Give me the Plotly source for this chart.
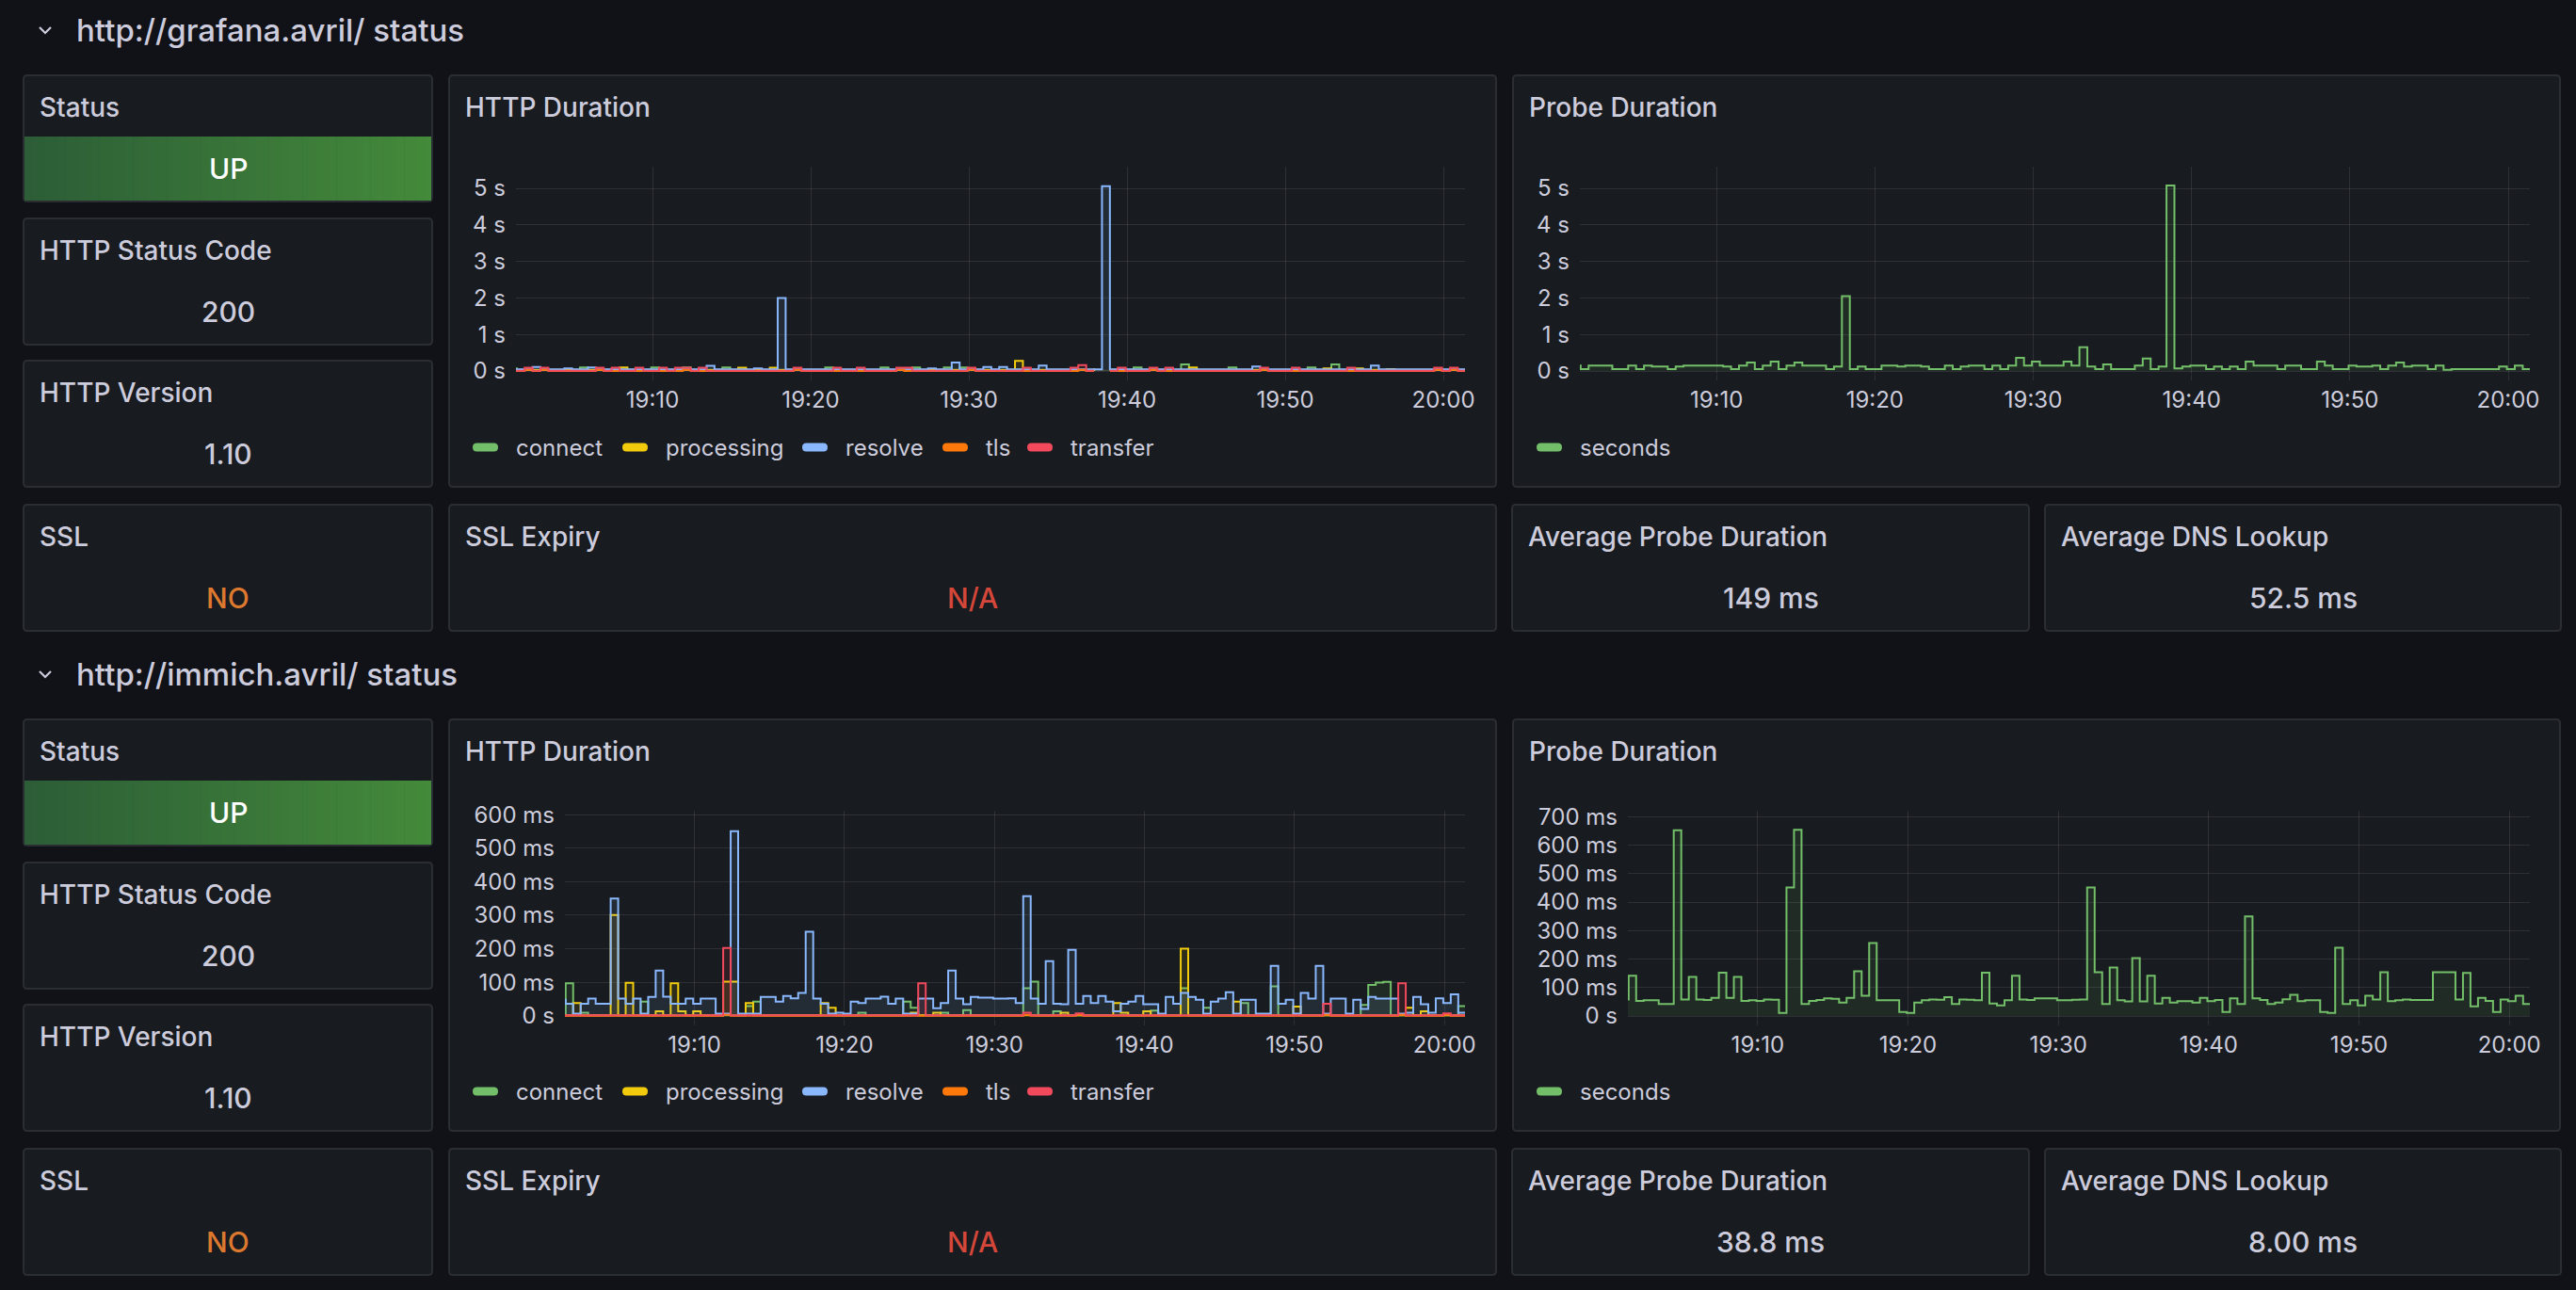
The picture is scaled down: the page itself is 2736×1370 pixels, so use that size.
import plotly.graph_objects as go
import pandas as pd

W, H = 2736, 1370

# ---------------- data ----------------
start_time = "2024-01-01 19:00:55"
range_start = "2024-01-01 19:01:22"
range_end = "2024-01-01 20:01:22"
n_points = 122
step = "30s"

series_names = ["connect", "processing", "resolve", "tls", "transfer"]
series_colors = ["#73BF69", "#F2CC0C", "#8AB8FF", "#FF780A", "#F2495C"]
probe_name = "seconds"

row_titles = ["http://grafana.avril/ status", "http://immich.avril/ status"]
g1_stats = ["UP", "200", "1.10", "NO", "N/A", "149 ms", "52.5 ms"]
g2_stats = ["UP", "200", "1.10", "NO", "N/A", "38.8 ms", "8.00 ms"]

# group 1 (grafana) HTTP duration, ms
g1_connect = [
    70, 35, 35, 35, 35, 35, 35, 35, 35, 95,
    35, 35, 35, 35, 35, 35, 35, 35, 95, 35,
    35, 35, 95, 35, 35, 35, 35, 95, 35, 35,
    35, 35, 35, 35, 35, 35, 35, 35, 35, 35,
    95, 35, 35, 35, 35, 35, 35, 95, 35, 35,
    35, 95, 35, 35, 35, 95, 35, 95, 35, 35,
    35, 35, 35, 35, 35, 35, 35, 35, 35, 35,
    35, 35, 35, 35, 35, None, 35, 35, 35, 95,
    35, 35, 35, 35, 35, 180, 35, 35, 35, 35,
    35, 95, 35, 35, 35, 35, 35, 35, 35, 35,
    35, 95, 35, 35, 180, 35, 35, 35, 35, 35,
    35, 35, 35, 35, 35, 35, 35, 35, 35, 35,
    35, 35]
g1_processing = [
    25, 25, 25, 25, 25, 25, 25, 25, 25, 25,
    25, 25, 25, 25, 95, 25, 25, 25, 25, 25,
    25, 25, 25, 25, 25, 25, 25, 25, 25, 90,
    25, 25, 25, 90, 25, 25, 25, 25, 25, 25,
    25, 25, 25, 25, 25, 25, 25, 25, 25, 25,
    25, 25, 25, 25, 25, 25, 25, 25, 25, 25,
    25, 25, 25, 25, 280, 25, 25, 25, 25, 25,
    25, 25, 25, 25, 70, None, 25, 25, 25, 25,
    25, 25, 25, 25, 25, 25, 95, 25, 25, 25,
    25, 25, 25, 25, 25, 25, 25, 25, 25, 25,
    25, 25, 25, 70, 25, 25, 25, 70, 25, 25,
    25, 50, 25, 25, 25, 25, 25, 25, 25, 25,
    25, 25]
g1_resolve = [
    45, 45, 45, 110, 45, 45, 45, 70, 45, 45,
    95, 45, 45, 45, 45, 45, 45, 45, 45, 45,
    45, 45, 45, 45, 45, 140, 45, 45, 45, 45,
    45, 70, 45, 45, 2000, 45, 45, 45, 45, 45,
    45, 45, 45, 45, 45, 45, 45, 45, 45, 45,
    45, 45, 45, 70, 45, 45, 230, 45, 45, 45,
    110, 45, 110, 45, 45, 45, 45, 150, 45, 45,
    45, 45, 45, 45, 45, 5060, 45, 45, 45, 45,
    45, 45, 45, 45, 45, 45, 45, 45, 45, 45,
    45, 45, 45, 45, 120, 45, 45, 45, 45, 45,
    45, 45, 45, 45, 45, 45, 45, 45, 45, 150,
    45, 45, 45, 45, 45, 45, 45, 45, 45, 45,
    45, 45]
g1_tls = [
    0, 0, 30, 0, 30, 0, 0, 0, 0, 0,
    0, 30, 0, 0, 0, 0, 0, 0, 0, 0,
    0, 0, 30, 0, 0, 0, 0, 0, 0, 0,
    0, 0, 0, 0, 0, 0, 30, 0, 0, 0,
    0, 0, 0, 0, 0, 0, 0, 0, 0, 30,
    0, 0, 0, 0, 0, 0, 0, 0, 30, 0,
    0, 0, 0, 0, 0, 0, 0, 0, 0, 0,
    0, 0, 30, 0, 0, None, 0, 0, 0, 0,
    0, 30, 0, 0, 0, 0, 0, 0, 0, 0,
    0, 0, 0, 0, 0, 30, 0, 0, 0, 0,
    0, 0, 0, 0, 0, 0, 0, 0, 0, 0,
    0, 0, 0, 0, 0, 0, 0, 30, 0, 30,
    0, 0]
g1_transfer = [
    5, 5, 90, 5, 90, 5, 5, 5, 5, 5,
    5, 90, 5, 90, 5, 5, 90, 5, 5, 90,
    5, 90, 90, 5, 90, 5, 5, 5, 5, 5,
    5, 5, 5, 5, 5, 5, 90, 5, 5, 5,
    5, 90, 5, 5, 90, 5, 5, 5, 5, 90,
    90, 5, 5, 5, 5, 5, 5, 5, 90, 5,
    5, 5, 5, 5, 5, 90, 5, 5, 5, 5,
    5, 90, 160, 5, 5, None, 5, 90, 5, 5,
    5, 90, 5, 90, 5, 5, 5, 5, 5, 5,
    5, 5, 5, 5, 5, 90, 5, 5, 5, 90,
    5, 5, 5, 5, 5, 5, 90, 5, 5, 5,
    5, 5, 5, 5, 5, 5, 5, 90, 5, 90,
    5, 5]
g1_probe = [
    150, 50, 150, 150, 150, 50, 50, 150, 50, 150,
    125, 125, 50, 125, 150, 150, 150, 150, 150, 125,
    50, 150, 230, 50, 150, 260, 50, 150, 230, 150,
    150, 150, 50, 125, 2050, 50, 125, 50, 50, 150,
    150, 125, 150, 150, 125, 50, 50, 150, 50, 125,
    150, 150, 50, 150, 50, 150, 360, 150, 260, 150,
    150, 150, 260, 150, 650, 125, 50, 180, 50, 50,
    50, 150, 340, 50, 125, 5080, 70, 125, 150, 150,
    50, 125, 50, 125, 50, 260, 150, 150, 150, 50,
    150, 150, 50, 50, 260, 150, 50, 50, 150, 125,
    125, 150, 50, 150, 230, 125, 150, 150, 50, 150,
    35, 50, 50, 50, 50, 50, 50, 125, 50, 150,
    50, 50]

# group 2 (immich) HTTP duration, ms
g2_connect = [
    1, 97, 1, 9, 1, 1, 1, 1, 1, 1,
    1, 42, 1, 1, 1, 1, 1, 1, 1, 1,
    1, 1, 1, 1, 1, 29, 42, 1, 1, 1,
    1, 1, 1, 1, 1, 1, 1, 1, 1, 1,
    9, 1, 1, 1, 1, 1, 42, 24, 1, 1,
    1, 9, 1, 1, 17, 1, 1, 1, 1, 1,
    1, 1, 82, 102, 1, 1, 13, 1, 1, 1,
    1, 1, 1, 1, 1, 1, 1, 1, 1, 15,
    1, 1, 1, 82, 1, 1, 24, 1, 1, 1,
    1, 38, 1, 1, 1, 88, 1, 1, 1, 1,
    1, 1, 1, 1, 1, 1, 1, 32, 92, 99,
    101, 1, 1, 1, 1, 1, 1, 1, 1, 1,
    29, 29]
g2_processing = [
    1, 1, 38, 1, 1, 1, 1, 301, 1, 98,
    1, 1, 1, 13, 1, 97, 13, 1, 13, 1,
    1, 1, 102, 102, 1, 38, 1, 1, 1, 1,
    1, 1, 1, 1, 1, 38, 24, 1, 1, 1,
    1, 1, 1, 1, 1, 1, 1, 9, 1, 1,
    9, 1, 1, 1, 1, 1, 1, 1, 1, 1,
    1, 1, 1, 1, 1, 1, 1, 9, 1, 1,
    1, 1, 1, 1, 38, 9, 1, 1, 13, 1,
    1, 1, 1, 200, 1, 1, 1, 1, 1, 1,
    42, 1, 1, 1, 1, 1, 1, 1, 27, 1,
    1, 1, 1, 1, 1, 1, 1, 1, 1, 1,
    1, 1, 1, 24, 1, 13, 1, 1, 1, 1,
    1, 1]
g2_resolve = [
    48, 36, 6, 36, 51, 36, 36, 350, 51, 36,
    51, 6, 56, 135, 57, 36, 36, 51, 36, 51,
    51, 6, 6, 551, 6, 6, 6, 56, 56, 42,
    59, 52, 68, 251, 51, 36, 6, 9, 6, 42,
    38, 51, 51, 57, 36, 51, 6, 6, 51, 51,
    22, 38, 135, 51, 34, 56, 54, 54, 51, 51,
    52, 38, 357, 51, 36, 163, 36, 34, 197, 36,
    59, 38, 59, 42, 13, 36, 42, 59, 34, 34,
    6, 56, 36, 68, 56, 48, 6, 42, 51, 70,
    6, 48, 48, 6, 6, 149, 36, 48, 6, 68,
    51, 149, 6, 51, 51, 6, 48, 20, 56, 51,
    51, 51, 6, 9, 56, 34, 9, 52, 38, 64,
    9, 9]
g2_tls = [
    0, 0, 0, 0, 0, 0, 0, 0, 0, 0,
    0, 0, 0, 0, 0, 0, 0, 0, 0, 0,
    0, 0, 3, 0, 0, 0, 0, 0, 0, 0,
    0, 0, 0, 0, 0, 0, 0, 0, 0, 0,
    0, 0, 0, 0, 0, 0, 0, 0, 0, 0,
    0, 0, 0, 0, 0, 0, 0, 0, 0, 0,
    0, 0, 3, 0, 0, 0, 0, 0, 0, 3,
    0, 0, 0, 0, 0, 0, 0, 0, 0, 0,
    0, 0, 0, 0, 0, 0, 0, 0, 0, 0,
    0, 0, 0, 0, 0, 0, 0, 0, 0, 0,
    0, 0, 3, 0, 0, 0, 0, 0, 0, 0,
    0, 0, 3, 0, 0, 0, 0, 0, 3, 0,
    0, 0]
g2_transfer = [
    1, 1, 1, 1, 1, 1, 1, 1, 1, 1,
    1, 1, 1, 1, 1, 1, 1, 1, 1, 1,
    1, 1, 202, 1, 1, 1, 1, 1, 1, 1,
    1, 1, 1, 1, 1, 1, 1, 1, 1, 1,
    1, 1, 1, 1, 1, 1, 1, 1, 97, 1,
    1, 1, 1, 1, 1, 1, 1, 1, 1, 1,
    1, 1, 9, 1, 1, 1, 1, 1, 1, 7,
    1, 1, 1, 1, 1, 1, 1, 1, 1, 1,
    1, 1, 1, 1, 1, 1, 1, 1, 1, 1,
    1, 1, 1, 1, 1, 1, 1, 1, 1, 1,
    1, 1, 36, 1, 1, 1, 1, 1, 1, 1,
    1, 1, 97, 1, 1, 1, 1, 1, 7, 1,
    1, 1]
g2_probe = [
    58, 141, 53, 55, 55, 42, 42, 652, 58, 137,
    58, 56, 64, 152, 64, 137, 53, 55, 53, 58,
    57, 11, 451, 654, 42, 53, 56, 62, 60, 47,
    64, 157, 71, 256, 55, 55, 55, 14, 11, 47,
    55, 58, 57, 66, 42, 58, 57, 55, 152, 44,
    37, 55, 141, 58, 56, 62, 62, 62, 55, 55,
    57, 58, 451, 154, 42, 170, 55, 51, 203, 51,
    141, 44, 64, 47, 52, 52, 47, 64, 52, 56,
    14, 62, 42, 350, 62, 56, 42, 47, 59, 74,
    52, 55, 55, 14, 11, 240, 42, 55, 37, 71,
    58, 154, 52, 55, 58, 56, 56, 56, 154, 154,
    154, 58, 151, 34, 64, 53, 14, 58, 52, 71,
    42, 42]

# axis ticks (values in ms)
g1_tick_vals = [0, 1000, 2000, 3000, 4000, 5000]
g1_tick_text = ["0 s", "1 s", "2 s", "3 s", "4 s", "5 s"]
g2_http_tick_vals = [0, 100, 200, 300, 400, 500, 600]
g2_http_tick_text = ["0 s", "100 ms", "200 ms", "300 ms", "400 ms", "500 ms", "600 ms"]
g2_probe_tick_vals = [0, 100, 200, 300, 400, 500, 600, 700]
g2_probe_tick_text = ["0 s", "100 ms", "200 ms", "300 ms", "400 ms", "500 ms", "600 ms", "700 ms"]

times = pd.date_range(start_time, periods=n_points, freq=step)

# ---------------- styling ----------------
FONT = "Inter"
BG = "#111217"
PANEL = "#181b1f"
BORDER = "#2a2d32"
GRID = "rgba(204,204,220,0.12)"
TEXT = "#ccccdc"
ORANGE_TXT = "#DC792F"
RED_TXT = "#D4473A"


def X(px):
    return px / W


def Y(py):
    return 1 - py / H


def rrect(x0, y0, x1, y1, r):
    return (f"M {X(x0 + r)},{Y(y0)} L {X(x1 - r)},{Y(y0)} Q {X(x1)},{Y(y0)} {X(x1)},{Y(y0 + r)} "
            f"L {X(x1)},{Y(y1 - r)} Q {X(x1)},{Y(y1)} {X(x1 - r)},{Y(y1)} "
            f"L {X(x0 + r)},{Y(y1)} Q {X(x0)},{Y(y1)} {X(x0)},{Y(y1 - r)} "
            f"L {X(x0)},{Y(y0 + r)} Q {X(x0)},{Y(y0)} {X(x0 + r)},{Y(y0)} Z")


def rgba(hex_color, a):
    h = hex_color.lstrip("#")
    return f"rgba({int(h[0:2], 16)},{int(h[2:4], 16)},{int(h[4:6], 16)},{a})"


def text_ann(x, y, text, size, color, weight=400, xanchor="center"):
    return dict(x=X(x), y=Y(y), xref="paper", yref="paper", xanchor=xanchor, yanchor="middle",
                text=text, showarrow=False,
                font=dict(family=FONT, size=size, color=color, weight=weight))


fig = go.Figure()
shapes = []
annotations = []

GROUP_DY = [0, 684]

# panel boxes: (x0, y0, x1, y1) for group 1 (pixels)
panel_boxes = {
    "Status": (25, 80, 459, 214),
    "HTTP Status Code": (25, 232, 459, 366),
    "HTTP Version": (25, 383, 459, 517),
    "SSL": (25, 536, 459, 670),
    "HTTP Duration": (477, 80, 1589, 517),
    "Probe Duration": (1607, 80, 2719, 517),
    "SSL Expiry": (477, 536, 1589, 670),
    "Average Probe Duration": (1606, 536, 2155, 670),
    "Average DNS Lookup": (2172, 536, 2720, 670),
}

# plot areas (x0, x1, y_top, y_zero, px_per_ms), relative to the group's top
plot_areas = [
    [(548, 1556, 177, 394, 0.0388), (1678, 2687, 177, 394, 0.0388)],
    [(600, 1556, 177, 394.7, 0.3557), (1729, 2687, 177, 395, 0.3024)],
]

legend_offsets = [25, 184, 375, 524, 614]

axis_idx = 0
for g in range(2):
    dy = GROUP_DY[g]
    stats = g1_stats if g == 0 else g2_stats

    # row header chevron + text
    shapes.append(dict(type="path", xref="paper", yref="paper",
                       path=f"M {X(42)},{Y(29 + dy)} L {X(48)},{Y(35 + dy)} L {X(54)},{Y(29 + dy)}",
                       line=dict(color=TEXT, width=2.2), layer="above"))
    annotations.append(text_ann(79, 32 + dy, row_titles[g], 33, TEXT, 500, "left"))

    # panels
    for name, (x0, y0, x1, y1) in panel_boxes.items():
        y0 += dy
        y1 += dy
        shapes.append(dict(type="path", xref="paper", yref="paper", path=rrect(x0, y0, x1, y1, 4),
                           fillcolor=PANEL, line=dict(color=BORDER, width=2), layer="below"))
        annotations.append(text_ann(x0 + 15, y0 + 34, name, 28, TEXT, 500, "left"))

    # status gradient box
    bx0, by0, bx1, by1 = 26, 145 + dy, 458, 213 + dy
    n_sl = 60
    c0 = (45, 94, 55)
    c1 = (68, 138, 59)
    for i in range(n_sl):
        t = i / (n_sl - 1)
        col = tuple(int(c0[j] + (c1[j] - c0[j]) * t) for j in range(3))
        xa = bx0 + (bx1 - bx0) * i / n_sl
        xb = bx0 + (bx1 - bx0) * (i + 1) / n_sl + 0.6
        shapes.append(dict(type="rect", xref="paper", yref="paper", x0=X(xa), x1=X(min(xb, bx1)),
                           y0=Y(by1), y1=Y(by0), fillcolor=f"rgb{col}", line=dict(width=0),
                           layer="below"))
    annotations.append(text_ann((bx0 + bx1) / 2, 179 + dy, stats[0], 30, "#ffffff", 500))

    # stat values
    stat_specs = [
        ("HTTP Status Code", stats[1], TEXT),
        ("HTTP Version", stats[2], TEXT),
        ("SSL", stats[3], ORANGE_TXT),
        ("SSL Expiry", stats[4], RED_TXT),
        ("Average Probe Duration", stats[5], TEXT),
        ("Average DNS Lookup", stats[6], TEXT),
    ]
    for name, val, col in stat_specs:
        x0, y0, x1, y1 = panel_boxes[name]
        annotations.append(text_ann((x0 + x1) / 2, y0 + dy + 99, val, 30, col, 500))

    # time series
    if g == 0:
        http_series = [g1_connect, g1_processing, g1_resolve, g1_tls, g1_transfer]
        probe = g1_probe
        tick_sets = [(g1_tick_vals, g1_tick_text), (g1_tick_vals, g1_tick_text)]
    else:
        http_series = [g2_connect, g2_processing, g2_resolve, g2_tls, g2_transfer]
        probe = g2_probe
        tick_sets = [(g2_http_tick_vals, g2_http_tick_text), (g2_probe_tick_vals, g2_probe_tick_text)]

    for c in range(2):
        axis_idx += 1
        xa_name = "xaxis" if axis_idx == 1 else f"xaxis{axis_idx}"
        ya_name = "yaxis" if axis_idx == 1 else f"yaxis{axis_idx}"
        xref = "x" if axis_idx == 1 else f"x{axis_idx}"
        yref = "y" if axis_idx == 1 else f"y{axis_idx}"
        px0, px1, ptop, pzero, ppm = plot_areas[g][c]
        ptop += dy
        pzero += dy
        pad = 3
        ymax = (pzero - ptop) / ppm
        ymin = -pad / ppm
        tv, tt = tick_sets[c]

        if c == 0:
            for s, nm, col in zip(http_series, series_names, series_colors):
                fig.add_trace(go.Scatter(x=times, y=s, name=nm, mode="lines", line_shape="hv",
                                         line=dict(color=col, width=2), fill="tozeroy",
                                         fillcolor=rgba(col, 0.1), xaxis=xref, yaxis=yref,
                                         connectgaps=False, hoverinfo="skip"))
        else:
            fig.add_trace(go.Scatter(x=times, y=probe, name=probe_name, mode="lines", line_shape="hv",
                                     line=dict(color=series_colors[0], width=2), fill="tozeroy",
                                     fillcolor=rgba(series_colors[0], 0.1), xaxis=xref, yaxis=yref,
                                     hoverinfo="skip"))

        fig.update_layout(**{
            xa_name: dict(domain=[X(px0), X(px1)], anchor=yref, type="date",
                          range=[range_start, range_end], tickformat="%H:%M",
                          dtick=600000, tick0="2024-01-01 19:00:00",
                          showgrid=True, gridcolor=GRID, gridwidth=1, zeroline=False,
                          showline=False, ticks="outside", ticklen=6, tickcolor=GRID,
                          tickwidth=1, ticklabelstandoff=0, automargin=False,
                          tickfont=dict(family=FONT, size=24, color=TEXT), fixedrange=True),
            ya_name: dict(domain=[Y(pzero + pad), Y(ptop)], anchor=xref,
                          range=[ymin, ymax], tickvals=tv, ticktext=tt,
                          showgrid=True, gridcolor=GRID, gridwidth=1, zeroline=False,
                          showline=False, ticks="", ticklabelstandoff=10, automargin=False,
                          tickfont=dict(family=FONT, size=24, color=TEXT), fixedrange=True),
        })

        # legend (manual)
        panel_left = panel_boxes["HTTP Duration" if c == 0 else "Probe Duration"][0]
        ly = 475 + dy
        items = list(zip(series_names, series_colors)) if c == 0 else [(probe_name, series_colors[0])]
        for k, (nm, col) in enumerate(items):
            sx = panel_left + legend_offsets[k]
            shapes.append(dict(type="path", xref="paper", yref="paper",
                               path=rrect(sx, ly - 4.5, sx + 27, ly + 4.5, 4.5),
                               fillcolor=col, line=dict(width=0), layer="above"))
            annotations.append(text_ann(sx + 44, ly, nm, 24, TEXT, 400, "left"))

fig.update_layout(
    width=W, height=H, autosize=False,
    margin=dict(l=0, r=0, t=0, b=0, pad=0, autoexpand=False),
    paper_bgcolor=BG, plot_bgcolor=PANEL,
    showlegend=False,
    shapes=shapes, annotations=annotations,
    font=dict(family=FONT, color=TEXT),
)

fig.write_html("out.html", config={"displayModeBar": False, "staticPlot": True})
